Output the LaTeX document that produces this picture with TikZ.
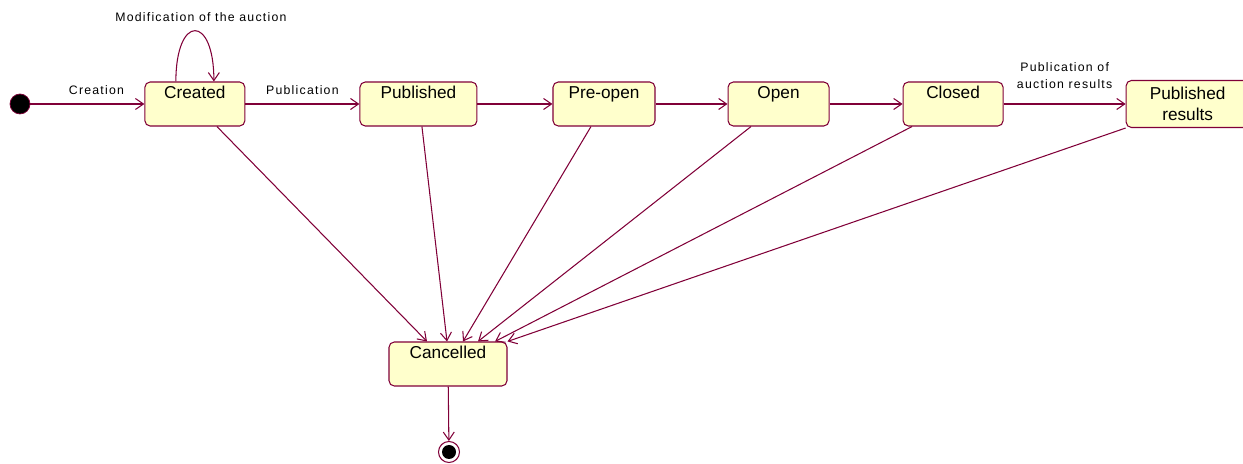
\documentclass[tikz,border=0pt]{standalone}
\usepackage{fontspec}
\setmainfont{Liberation Sans}
\newfontfamily\lblfont[LetterSpace=10]{Liberation Sans}
\usetikzlibrary{arrows.meta,
                positioning
            }
\definecolor{umlline}{RGB}{128,0,56}
\definecolor{umlfill}{RGB}{255,255,204}

\begin{document}
\begin{tikzpicture}[
        statebox/.style={draw=umlline, fill=umlfill, rounded corners=3pt, line width=0.6pt,
            minimum width=2cm, minimum height=0.88cm, font=\fontsize{9.8}{12}\selectfont},
        state/.style={statebox, inner ysep=0.05cm, text height=0.29cm, text depth=0.49cm},
        trans/.style={draw=umlline, line width=0.6pt, -{Straight Barb[length=1.6mm, width=2.2mm]}},
        lbl/.style={font=\lblfont\fontsize{7}{9.7}\selectfont, align=center}
    ]
                \useasboundingbox (-0.4,2.08) rectangle (24.46,-7.2);

                % Initial state
                \node (init) [circle, fill=black, draw=umlline, minimum size=0.4cm, inner sep=0pt] at (0,0) {};

                % Auction states
                \node (created) [state, right=2.28cm of init] {Created};
                \node (published) [state, minimum width=2.34cm, right=2.28cm of created] {Published};
                \node (preopen) [state, minimum width=2.04cm, right=1.5cm of published] {Pre-open};
                \node (open) [state, minimum width=2.02cm, right=1.44cm of preopen] {Open};
                \node (closed) [state, right=1.46cm of open] {Closed};
                \node (pubresults) [statebox, minimum width=2.46cm, minimum height=0.94cm, align=center,
                    right=2.44cm of closed] {Published\\results};

                % Cancelled and final state
                \node (cancelled) [state, minimum width=2.36cm] at (8.56,-5.2) {Cancelled};
                \node (final) [circle, draw=umlline, fill=white, line width=0.6pt, minimum size=0.42cm, inner sep=0pt,
                    path picture={\fill[black] (path picture bounding box.center) circle (0.14cm);}] at (8.58,-6.96) {};

                % Main flow
                \draw[trans] (init) -- (created) node[lbl, pos=0.58, above=0.06cm] {Creation};
                \draw[trans] ([xshift=-0.38cm]created.north) .. controls +(0,1.35) and +(0,1.35) .. ([xshift=0.38cm]created.north)
                    node[lbl, pos=0.5, above=0.05cm, xshift=0.12cm] {Modification of the auction};
                \draw[trans] (created) -- (published) node[lbl, midway, above=0.06cm] {Publication};
                \draw[trans] (published) -- (preopen);
                \draw[trans] (preopen) -- (open);
                \draw[trans] (open) -- (closed);
                \draw[trans] (closed) -- (pubresults) node[lbl, midway, above=0.18cm] {Publication of\\auction results};

                % Cancellation
                \draw[trans] ([xshift=0.44cm]created.south) -- ([xshift=-0.42cm]cancelled.north);
                \draw[trans] ([xshift=0.07cm]published.south) -- ([xshift=-0.02cm]cancelled.north);
                \draw[trans] ([xshift=-0.26cm]preopen.south) -- ([xshift=0.3cm]cancelled.north);
                \draw[trans] ([xshift=-0.55cm]open.south) -- ([xshift=0.6cm]cancelled.north);
                \draw[trans] ([xshift=-0.82cm]closed.south) -- ([xshift=0.94cm]cancelled.north);
                \draw[trans] (pubresults.south west) -- (cancelled.north east);
                \draw[trans] (cancelled) -- (final);
            \end{tikzpicture}
\end{document}
